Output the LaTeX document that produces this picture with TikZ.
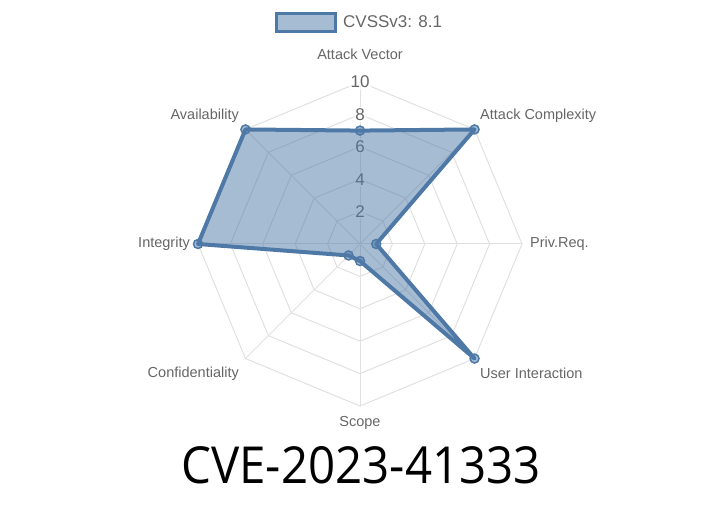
\documentclass[tikz,border=0pt]{standalone}
\usepackage{fontspec}
\usetikzlibrary{calc}
\setmainfont{Liberation Sans}
\newfontfamily\titlefont[FakeStretch=0.93]{Open Sans}
\definecolor{linec}{RGB}{78,121,167}
\definecolor{fillc}{RGB}{166,188,211}
\definecolor{gridc}{RGB}{224,224,224}
\definecolor{txtc}{RGB}{102,102,102}
\begin{document}
\begin{tikzpicture}[x=1pt,y=1pt,
  gridline/.style={draw=gridc,line width=1pt},
  axlabel/.style={text=txtc,font=\fontsize{14.5}{16}\selectfont,inner sep=0pt},
  ticklabel/.style={text=txtc,font=\fontsize{17}{19}\selectfont,fill=white,fill opacity=0.75,text opacity=1,inner sep=1.5pt},
  datapt/.style={circle,draw=linec,line width=1.5pt,fill=linec,fill opacity=0.5,minimum size=9pt,inner sep=0pt}]
\useasboundingbox (0,0) rectangle (720,504);
\coordinate (c) at (360,260);
% grid rings
\foreach \k in {1,...,5}{
  \draw[gridline] ($(c)+(90:{32.4*\k})$)
    \foreach \a in {45,0,-45,-90,-135,180,135}{ -- ($(c)+(\a:{32.4*\k})$)} -- cycle;
}
% axis lines
\foreach \a in {90,45,0,-45,-90,-135,180,135}{
  \draw[gridline] (c) -- ($(c)+(\a:162)$);
}
% tick labels
\foreach \k/\v in {1/2,2/4,3/6,4/8,5/10}{
  \node[ticklabel] (t\v) at ($(c)+(0,{32.4*\k})$) {\v};
}
% data
\coordinate (pAV) at ($(c)+(90:{16.2*7})$);
\coordinate (pAC) at ($(c)+(45:{16.2*10})$);
\coordinate (pPR) at ($(c)+(0:{16.2*1})$);
\coordinate (pUI) at ($(c)+(-45:{16.2*10})$);
\coordinate (pS) at ($(c)+(-90:{16.2*1.05})$);
\coordinate (pC) at ($(c)+(-135:{16.2*1})$);
\coordinate (pI) at ($(c)+(180:{16.2*10})$);
\coordinate (pA) at ($(c)+(135:{16.2*10})$);
\fill[linec,fill opacity=0.5]
  (pAV) -- (pAC) -- (pPR) -- (pUI) -- (pS) -- (pC) -- (pI) -- (pA) -- cycle;
\draw[draw=linec,line width=4pt,line join=round]
  (pAV) -- (pAC) -- (pPR) -- (pUI) -- (pS) -- (pC) -- (pI) -- (pA) -- cycle;
\foreach \p in {pAV,pAC,pPR,pUI,pS,pC,pI,pA}{
  \node[datapt] at (\p) {};
}
% axis labels
\node[axlabel,anchor=center] (lAV) at (360,450) {Attack Vector};
\node[axlabel,anchor=west] (lAC) at (480,388) {Attack Complexity};
\node[axlabel,anchor=west] (lPR) at (530,260) {Priv.Req.};
\node[axlabel,anchor=west] (lUI) at (480,131) {User Interaction};
\node[axlabel,anchor=center] (lS) at (360,81) {Scope};
\node[axlabel,anchor=east] (lC) at (239,130) {Confidentiality};
\node[axlabel,anchor=east] (lI) at (190,260) {Integrity};
\node[axlabel,anchor=east] (lA) at (239,388) {Availability};
% legend
\node[draw=linec,line width=3pt,fill=fillc,minimum width=59pt,minimum height=18pt,inner sep=0pt] (leg) at (306,481.5) {};
\node[anchor=west,text=txtc,font=\fontsize{17}{19}\selectfont,inner sep=0pt] (legt) at (343,482) {CVSSv3: 8.1};
% title
\node[anchor=base,font=\titlefont\fontsize{51}{58}\selectfont,inner sep=0pt] (title) at (361,21) {CVE-2023-41333};
\end{tikzpicture}
\end{document}
